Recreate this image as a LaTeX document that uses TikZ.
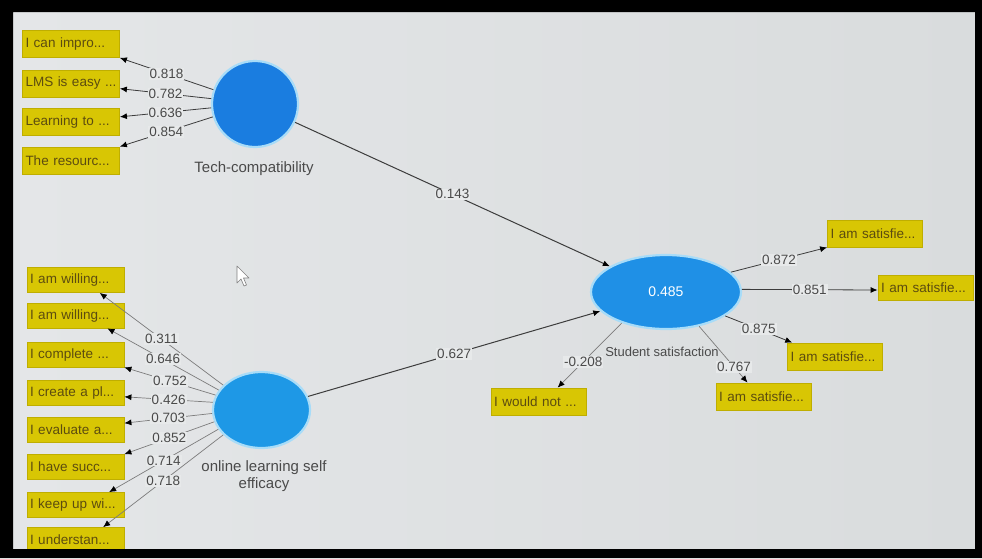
\documentclass[tikz,border=0pt]{standalone}
\usepackage{fontspec}
\setmainfont{Liberation Sans}
\usetikzlibrary{shapes.geometric,arrows.meta}
\definecolor{bgl}{HTML}{E4E6E8}
\definecolor{bgm}{HTML}{EAEDEE}
\definecolor{bgr}{HTML}{D9DCDD}
\definecolor{boxy}{HTML}{D8C604}
\definecolor{boxd}{HTML}{BFAE00}
\definecolor{boxt}{HTML}{5C4C10}
\definecolor{tcblue}{HTML}{1A7DE0}
\definecolor{efblue}{HTML}{1E98E6}
\definecolor{ssblue}{HTML}{1F90E6}
\definecolor{halo}{HTML}{A8DCF8}
\definecolor{numc}{HTML}{4A4A4A}
\definecolor{linec}{HTML}{3C3C3C}
\definecolor{linel}{HTML}{7C7C7C}
\definecolor{lblbg}{HTML}{E7E9EA}
\begin{document}
\begin{tikzpicture}[x=1pt,y=-1pt,
  indbox/.style={rectangle, fill=boxy, draw=boxd, line width=0.8pt,
    minimum width=97pt, minimum height=26pt, inner sep=3pt,
    text width=91pt, align=left, font=\fontsize{13.5}{15}\selectfont, text=boxt},
  ebox/.style={indbox, minimum height=25pt},
  rbox/.style={indbox, minimum width=95pt, text width=89pt},
  lat/.style={circle, draw=halo, line width=2.2pt, inner sep=0pt},
  latE/.style={ellipse, draw=halo, line width=2.2pt, inner sep=0pt},
  lattxt/.style={text=numc, font=\fontsize{15}{17}\selectfont, align=center},
  num/.style={fill=lblbg, inner sep=1pt, text=numc, font=\fontsize{13.5}{15}\selectfont},
  arr/.style={-{Latex[length=7pt,width=6pt,color=black]}},
  path/.style={arr, draw=linec, line width=1pt},
  ldark/.style={arr, draw=linec, line width=0.8pt},
  llight/.style={arr, draw=linel, line width=0.7pt}
]
\useasboundingbox (0,0) rectangle (982,558);
% screen background
\shade[left color=bgl, middle color=bgm, right color=bgr] (13,12) rectangle (975,549);

% Tech-compatibility
\node[lat, fill=tcblue, minimum size=86pt] (tc) at (255,104) {};
\node[lattxt] (tcl) at (254,169) {Tech-compatibility};
\node[indbox, minimum height=27pt] (t1) at (71,44) {I can impro...};
\node[indbox, minimum height=27pt] (t2) at (71,83.5) {LMS is easy ...};
\node[indbox, minimum height=27pt] (t3) at (71,122) {Learning to ...};
\node[indbox, minimum height=27pt] (t4) at (71,160.5) {The resourc...};

% online learning self efficacy
\node[latE, fill=efblue, minimum width=97pt, minimum height=76pt] (ef) at (261.5,410) {};
\node[lattxt] (efl) at (264,476.5) {online learning self\\efficacy};
\node[ebox] (f1) at (75.5,280) {I am willing...};
\node[ebox] (f2) at (75.5,315.5) {I am willing...};
\node[ebox] (f3) at (75.5,354.5) {I complete ...};
\node[ebox] (f4) at (75.5,392.5) {I create a pl...};
\node[ebox] (f5) at (75.5,430) {I evaluate a...};
\node[ebox] (f6) at (75.5,467) {I have succ...};
\node[ebox] (f7) at (75.5,505) {I keep up wi...};
\node[ebox] (f8) at (75.5,540) {I understan...};

% Student satisfaction
\node[latE, fill=ssblue, minimum width=150pt, minimum height=74pt, text=white,
  font=\fontsize{14}{16}\selectfont] (ss) at (666,292) {0.485};
\node[lattxt, font=\fontsize{13}{15}\selectfont] (ssl) at (662,352) {Student satisfaction};
\node[rbox, minimum height=27pt] (s1) at (875,233.5) {I am satisfie...};
\node[rbox, minimum height=25pt] (s2) at (925.5,287.5) {I am satisfie...};
\node[rbox, minimum height=27pt] (s3) at (835,356.5) {I am satisfie...};
\node[rbox, minimum height=27pt] (s4) at (763.5,396.5) {I am satisfie...};
\node[rbox, minimum height=27pt] (wn) at (538.5,401.5) {I would not ...};

% structural paths
\draw[path] (tc) -- node[num] {0.143} (ss);
\draw[path] (ef) -- node[num] {0.627} (ss);

% Tech-compatibility loadings
\draw[ldark] (tc.161) -- node[num] {0.818} (t1.south east);
\draw[ldark] (tc.173) -- node[num] {0.782} (t2.-6);
\draw[ldark] (tc.185) -- node[num] {0.636} (t3.6);
\draw[ldark] (tc.197) -- node[num] {0.854} (t4.north east);

% efficacy loadings
\draw[llight] (ef.147) -- node[num] {0.311} (f1.-28);
\draw[llight] (ef.155) -- node[num] {0.646} (f2.-22);
\draw[llight] (ef.162) -- node[num] {0.752} (f3.south east);
\draw[llight] (ef.171) -- node[num] {0.426} (f4.-5);
\draw[llight] (ef.184) -- node[num] {0.703} (f5.8);
\draw[llight] (ef.194) -- node[num] {0.852} (f6.north east);
\draw[llight] (ef.204) -- node[num] {0.714} (f7.21);
\draw[llight] (ef.213) -- node[num] {0.718} (f8.25);

% satisfaction loadings
\draw[ldark] (ss.17) -- node[num] {0.872} (s1.south west);
\draw[ldark] (ss.2) -- node[num] {0.851} (s2.183);
\draw[ldark] (ss.-22) -- node[num] {0.875} (s3.162);
\draw[llight] (ss.-46) -- node[num, pos=0.72] {0.767} (s4.139);
\draw[llight] (ss.215) -- node[num, pos=0.6] {-0.208} (wn.36);

% mouse cursor
\draw[draw=gray, fill=white, line width=0.6pt, line join=round]
  (237,266) -- (237,283) -- (241,279) -- (244,286) -- (246.5,285) -- (243.5,278) -- (249,278) -- cycle;

% black frame of the photo
\fill[black, even odd rule] (0,0) rectangle (982,558) (13,12) rectangle (975,549);
\end{tikzpicture}
\end{document}
